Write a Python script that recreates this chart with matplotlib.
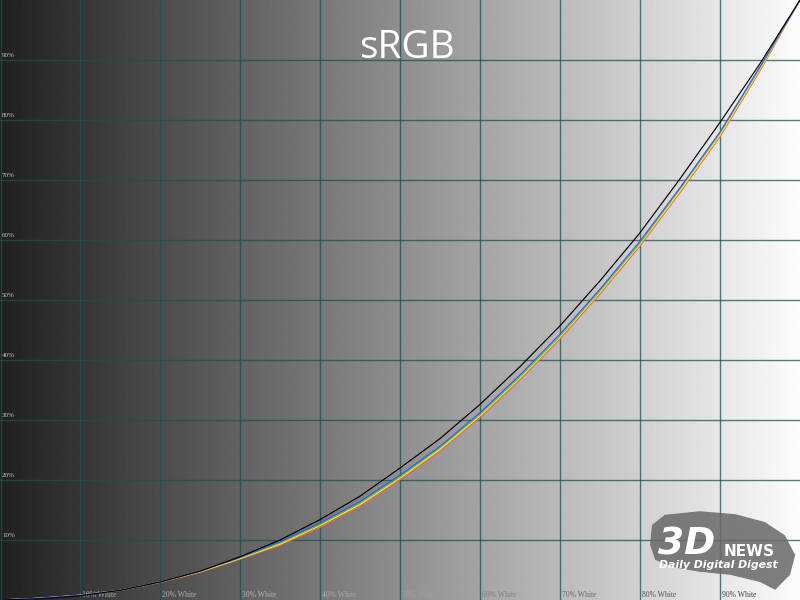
import numpy as np
import matplotlib
matplotlib.use("Agg")
import matplotlib.pyplot as plt
from matplotlib.patches import Polygon

# ---- data ----
inputs = [0, 5, 10, 15, 20, 25, 30, 35, 40, 45, 50, 55, 60, 65, 70, 75, 80, 85, 90, 95, 100]
ref_black = [0, 0.2, 0.7, 1.6, 3.0, 4.8, 7.2, 10.0, 13.4, 17.3, 22.0, 26.9, 32.6, 38.9, 45.7, 53.2, 61.2, 70.2, 79.6, 89.4, 100]
blue = [0, 0.3, 0.8, 1.6, 3.0, 4.8, 7.1, 9.7, 12.8, 16.4, 20.8, 25.6, 31.2, 37.5, 44.3, 51.8, 59.8, 68.7, 78.0, 88.9, 100]
green = [0, 0.3, 0.8, 1.6, 3.0, 4.8, 7.0, 9.5, 12.6, 16.2, 20.5, 25.4, 30.9, 37.2, 44.0, 51.5, 59.5, 68.5, 77.8, 88.7, 100]
yellow = [0, 0.3, 0.8, 1.6, 3.0, 4.7, 6.9, 9.3, 12.4, 15.9, 20.3, 25.1, 30.7, 37.0, 43.8, 51.3, 59.3, 68.2, 77.5, 88.5, 100]
red = [0, 0.3, 0.8, 1.6, 2.9, 4.6, 6.8, 9.1, 12.1, 15.6, 20.0, 24.8, 30.4, 36.7, 43.5, 51.0, 59.0, 67.9, 77.2, 88.2, 100]

grid_vals = [10, 20, 30, 40, 50, 60, 70, 80, 90]
y_labels = ["10%", "20%", "30%", "40%", "50%", "60%", "70%", "80%", "90%"]
x_labels = ["10% White", "20% White", "30% White", "40% White", "50% White",
            "60% White", "70% White", "80% White", "90% White"]
x_label_colors = ["#a8a8a8", "#b0b0b0", "#b4b4b4", "#a8a8a8", "#a0a0a0",
                  "#808080", "#6a6a6a", "#555555", "#444444"]
title = "sRGB"

fig = plt.figure(figsize=(8, 6), dpi=100)
ax = fig.add_axes([0, 0, 1, 1])
ax.set_xlim(0, 100)
ax.set_ylim(0, 100)
ax.axis("off")

# background gradient
grad = np.linspace(32, 252, 800) / 255.0
img = np.tile(grad, (10, 1))
ax.imshow(img, cmap="gray", vmin=0, vmax=1, extent=[0, 100, 0, 100],
          aspect="auto", zorder=0, interpolation="bilinear")

# grid
gcol = "#1b524e"
for v in [0.1] + grid_vals:
    ax.axvline(v, color=gcol, lw=1.0, alpha=0.75, zorder=1)
for v in grid_vals:
    ax.axhline(v, color=gcol, lw=1.0, alpha=0.75, zorder=1)

# labels
for v, lab in zip(grid_vals, y_labels):
    ax.text(0.25, v + 0.4, lab, fontsize=5, color="#c8c8c8",
            family="Liberation Serif", ha="left", va="bottom", zorder=2)
for v, lab, c in zip(grid_vals, x_labels, x_label_colors):
    ax.text(v + 0.3, 0.15, lab, fontsize=5.5, color=c,
            family="Liberation Serif", ha="left", va="bottom", zorder=2)

# watermark logo
brush = Polygon([(81.5, 12.5), (83.1, 14.2), (87.5, 14.8), (91.9, 14.3), (95.6, 13.0),
                 (98.1, 10.8), (99.4, 7.5), (98.75, 4.2), (96.9, 1.7), (95.0, 3.0),
                 (91.25, 4.2), (87.5, 4.7), (84.0, 5.5), (81.9, 6.7), (81.25, 9.2)],
                closed=True, facecolor="#686868", edgecolor="none", alpha=0.85, zorder=2)
ax.add_patch(brush)
ax.text(82.3, 7.6, "3D", fontsize=27, fontweight="bold", style="italic", color="white",
        family="DejaVu Sans", ha="left", va="baseline", zorder=3)
ax.text(90.4, 7.4, "NEWS", fontsize=11, fontweight="bold", color="white",
        family="DejaVu Sans", ha="left", va="baseline", zorder=3)
ax.text(82.4, 5.4, "Daily Digital Digest", fontsize=7.8, fontweight="bold",
        style="italic", color="white", family="DejaVu Sans",
        ha="left", va="baseline", zorder=3)

# curves
lw = 0.85
ax.plot(inputs, red, color="#ff5a5a", lw=lw, zorder=4)
ax.plot(inputs, yellow, color="#f8f800", lw=lw, zorder=4)
ax.plot(inputs, green, color="#40d840", lw=lw, zorder=4)
ax.plot(inputs, blue, color="#4a4aff", lw=lw, zorder=4)
ax.plot(inputs, ref_black, color="black", lw=lw, zorder=5)

# title
ax.text(50.9, 90.3, title, fontsize=28, color="white", family="Open Sans",
        ha="center", va="baseline", zorder=6)

fig.savefig("out.png", dpi=100)
